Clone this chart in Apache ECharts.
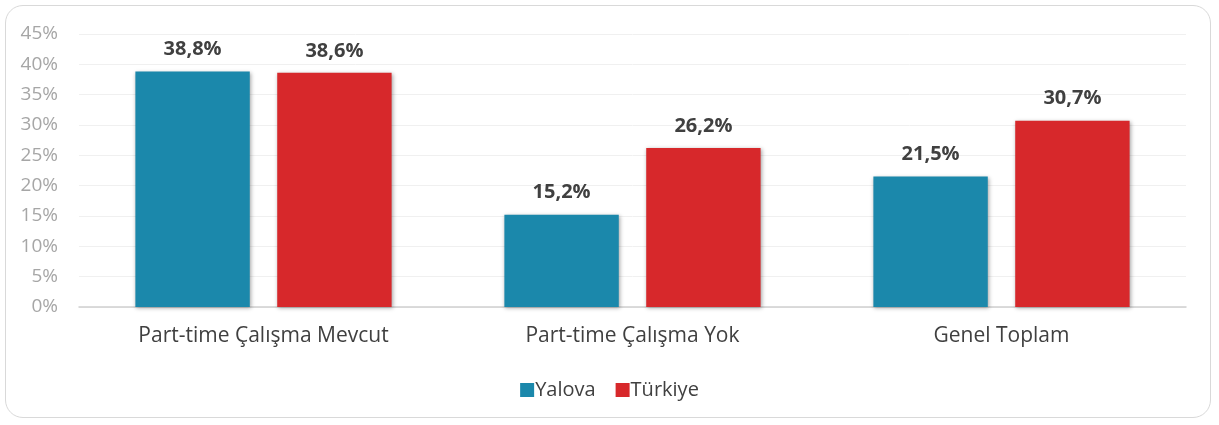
<!DOCTYPE html>
<html>
<head>
<meta charset="utf-8">
<script src="https://cdn.jsdelivr.net/npm/echarts@6/dist/echarts.min.js"></script>
<style>
  html, body { margin: 0; padding: 0; background: #fff; }
  #frame {
    position: absolute; left: 5px; top: 5px; width: 1206px; height: 413px;
    border: 1.5px solid #d9d9d9; border-radius: 18px; box-sizing: border-box;
  }
  #chart { position: absolute; left: 0; top: 0; width: 1219px; height: 425px; }
</style>
</head>
<body>
<div id="frame"></div>
<div id="chart"></div>
<script>
var categories = ['Part-time Çalışma Mevcut', 'Part-time Çalışma Yok', 'Genel Toplam']
var yalova = [38.8, 15.2, 21.5]
var turkiye = [38.6, 26.2, 30.7]
var yTicks = [0, 5, 10, 15, 20, 25, 30, 35, 40, 45]

var chart = echarts.init(document.getElementById('chart'))
var fmt = function (v) { return v.toFixed(1).replace('.', ',') + '%' }
var barStyle = function (color) {
  return {
    color: color,
    shadowColor: 'rgba(0,0,0,0.35)',
    shadowBlur: 4,
    shadowOffsetX: 1,
    shadowOffsetY: 1
  }
}
var barLabel = {
  show: true,
  position: 'top',
  distance: 12,
  fontSize: 20,
  fontWeight: 'bold',
  color: '#404040',
  formatter: function (p) { return fmt(p.value) }
}
var option = {
  textStyle: { fontFamily: 'Open Sans' },
  grid: { left: 79, right: 33, top: 34, bottom: 118 },
  legend: {
    bottom: 20,
    itemWidth: 14,
    itemHeight: 14,
    itemGap: 20,
    icon: 'rect',
    textStyle: { fontSize: 20, color: '#404040', padding: [0, 0, 0, -4] },
    data: ['Yalova', 'Türkiye']
  },
  xAxis: {
    type: 'category',
    data: categories,
    axisTick: { show: false },
    axisLine: { lineStyle: { color: '#d0d0d0', width: 1.5 } },
    axisLabel: { fontSize: 21, color: '#404040', margin: 19 }
  },
  yAxis: {
    type: 'value',
    min: yTicks[0],
    max: yTicks[yTicks.length - 1],
    interval: 5,
    axisLine: { show: false },
    axisTick: { show: false },
    splitLine: { lineStyle: { color: '#f0f0f0' } },
    axisLabel: { fontSize: 19, color: '#a6a6a6', margin: 21, formatter: '{value}%' }
  },
  series: [
    {
      name: 'Yalova',
      type: 'bar',
      data: yalova,
      barWidth: '31%',
      barGap: '24%',
      itemStyle: barStyle('#1b88ab'),
      label: barLabel
    },
    {
      name: 'Türkiye',
      type: 'bar',
      data: turkiye,
      barWidth: '31%',
      itemStyle: barStyle('#d7282b'),
      label: barLabel
    }
  ]
}
chart.setOption(option)
</script>
</body>
</html>
